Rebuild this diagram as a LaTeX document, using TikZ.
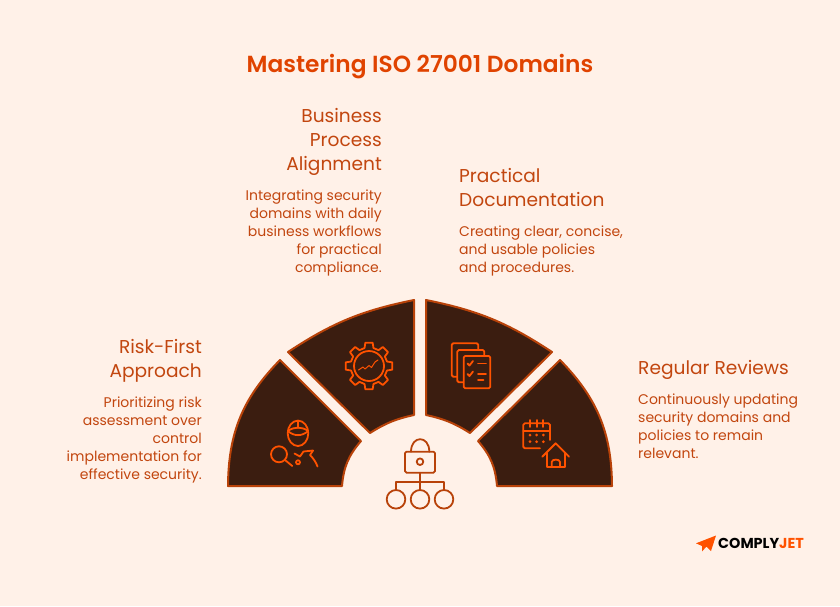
\documentclass[tikz,border=0pt]{standalone}
\usepackage{fontspec}
\setmainfont{Poppins}
\newfontfamily\semibold{Poppins SemiBold}
\usepackage{tikz}
\usetikzlibrary{
        positioning
    }
\definecolor{pagebg}{HTML}{FFF1E8}
\definecolor{segdark}{HTML}{3B1D10}
\definecolor{segline}{HTML}{B84209}
\definecolor{iconline}{HTML}{FF5200}
\definecolor{titletext}{HTML}{E04300}
\definecolor{headtext}{HTML}{C2460F}
\tikzset{
    segment/.style={fill=segdark,draw=segline,line width=2pt,line join=round},
    iconmark/.style={draw=iconline,line width=1.8pt,line cap=round,line join=round},
    lockmark/.style={draw=segline,line width=1.8pt,line cap=round,line join=round},
    leaf/.style={draw=segline,line width=1.8pt,circle,minimum size=18.6pt,inner sep=0pt},
    heading/.style={inner sep=0pt,text=headtext,font=\fontsize{18.6}{24}\selectfont},
    bodytext/.style={inner sep=0pt,text=headtext,font=\fontsize{14}{18}\selectfont}
}

\begin{document}
\begin{tikzpicture}[x=1pt,y=-1pt]
    \useasboundingbox (0,0) rectangle (840,606);
    \fill[pagebg] (0,0) rectangle (840,606);

    \node[inner sep=0pt,text=titletext,font=\fontsize{23.3}{30}\selectfont\semibold] (title) at (420,67) {Mastering ISO 27001 Domains};

    % segments
    \draw[segment] (228,486) to[bend left=22] (280,360) -- (361,441) to[bend right=18] (342,486) -- cycle;
    \draw[segment] (288,352) to[bend left=11] (414,300) -- (414,415) to[bend right=10] (370,433) -- cycle;
    \draw[segment] (426,300) to[bend left=11] (552,352) -- (470,433) to[bend right=10] (426,415) -- cycle;
    \draw[segment] (560,360) to[bend left=22] (612,486) -- (497,486) to[bend right=18] (478,441) -- cycle;

    % texts, left to right
    \node[heading,anchor=north east,align=right] (risk) at (202,336) {\strut Risk-First\\Approach\strut};
    \node[bodytext,align=right,below=10pt of risk.south east,anchor=north east] (riskbody) {\strut Prioritizing risk\\assessment over\\control\\implementation for\\effective security.};

    \node[heading,anchor=north east,align=right] (align) at (382,105) {\strut Business\\Process\\Alignment\strut};
    \node[bodytext,align=right,below=10pt of align.south east,anchor=north east] (alignbody) {\strut Integrating security\\domains with daily\\business workflows\\for practical\\compliance.};

    \node[heading,anchor=north west,align=left] (docs) at (459,165) {\strut Practical\\Documentation\strut};
    \node[bodytext,align=left,below=10pt of docs.south west,anchor=north west] (docsbody) {\strut Creating clear, concise,\\and usable policies\\and procedures.};

    \node[heading,anchor=north west,align=left] (review) at (638,357) {\strut Regular Reviews\strut};
    \node[bodytext,align=left,below=10pt of review.south west,anchor=north west] (reviewbody) {\strut Continuously updating\\security domains and\\policies to remain\\relevant.};

    % person with magnifier
    \draw[iconmark] (298,433.3) ellipse (10.3pt and 12.7pt);
    \draw[iconmark] (287.8,431) .. controls (294,436.5) and (302,436.5) .. (308.2,431);
    \draw[iconmark] (287.8,431) .. controls (294,426.5) and (302,426.5) .. (308.2,431);
    \draw[iconmark] (298,421) -- (298,428);
    \draw[iconmark] (279,454.3) circle (8pt);
    \draw[iconmark] (285,460) -- (292.3,466);
    \draw[iconmark] (298,462.3) circle (2pt);
    \draw[iconmark] (294.5,453.5) -- (300,456.5) -- (303.5,451.5) -- (313,450.5) -- (310,455) .. controls (313,458) and (316,462) .. (317.5,466.5);

    % gear with chart
    \draw[iconmark] (369,366) circle (15pt);
    \begin{scope}[shift={(369,366)}]
        \draw[iconmark] (-14:18.5pt) \foreach \a in {0,45,...,315} {
            -- ({\a-9}:23.5pt) -- ({\a+9}:23.5pt) -- ({\a+14}:18.5pt) -- ({\a+31}:18.5pt)
        } -- cycle;
    \end{scope}
    \draw[iconmark,line width=1pt] (358.5,370) -- (363,367) -- (365,369) -- (369,365.5) -- (371.5,367.5) -- (375,362) -- (378,360);

    % pages with checklist
    \draw[iconmark,fill=segdark,rounded corners=1.5pt] (451.7,343.3) rectangle (478.3,376.7);
    \draw[iconmark,fill=segdark,rounded corners=1.5pt] (457.3,350) rectangle (484.3,382.3);
    \draw[iconmark,fill=segdark,rounded corners=1.5pt] (463.7,356) rectangle (490.3,388.3);
    \foreach \yy in {363.5,374} {
        \draw[iconmark] (467.5,\yy) -- (469.5,\yy+2) -- (473,\yy-2.5);
        \draw[iconmark] (478,\yy) -- (486,\yy);
    }
    \draw[iconmark] (478,380) -- (483.5,380);

    % calendar and house
    \draw[iconmark,rounded corners=1.5pt] (540,448.3) -- (523.3,448.3) -- (523.3,423.3) -- (550,423.3) -- (550,440);
    \draw[iconmark] (523.3,431) -- (550,431);
    \foreach \xx in {530,536.7,543.3} {
        \draw[iconmark] (\xx,420) -- (\xx,427);
        \fill[iconline] (\xx,435) circle (1.5pt) (\xx,441.7) circle (1.5pt);
    }
    \draw[iconmark] (542.3,456.7) -- (555.7,443.3) -- (569,456.7);
    \draw[iconmark] (546.7,453) -- (546.7,466.7) -- (565,466.7) -- (565,453);
    \draw[iconmark] (551.7,466.7) -- (551.7,462) .. controls (551.7,458.8) and (560,458.8) .. (560,462) -- (560,466.7);

    % lock with hierarchy
    \draw[lockmark] (411,451.7) .. controls (411,435) and (429.3,435) .. (429.3,451.7);
    \draw[lockmark,rounded corners=1.5pt] (405,451.7) rectangle (435,472.7);
    \draw[lockmark] (420,461.7) circle (3.3pt);
    \node[leaf] (leafa) at (396,499.3) {};
    \node[leaf] (leafb) at (420,499.3) {};
    \node[leaf] (leafc) at (444,499.3) {};
    \coordinate (lockbase) at (420,472.7);
    \coordinate (fork) at (420,482.3);
    \draw[lockmark] (lockbase) -- (leafb.north);
    \draw[lockmark] (leafa.north) -- (leafa.north |- fork) -- (leafc.north |- fork) -- (leafc.north);

    % logo
    \fill[iconline] (696,543.3) -- (716,535.5) -- (711,551) -- (706.5,546.5) -- (702,551.5) -- (702,546) -- cycle;
    \node[inner sep=0pt,anchor=west,font=\fontsize{14.4}{15}\selectfont\bfseries] (logo) at (718,543) {COMPLY\textcolor{iconline}{JET}};
\end{tikzpicture}
\end{document}
